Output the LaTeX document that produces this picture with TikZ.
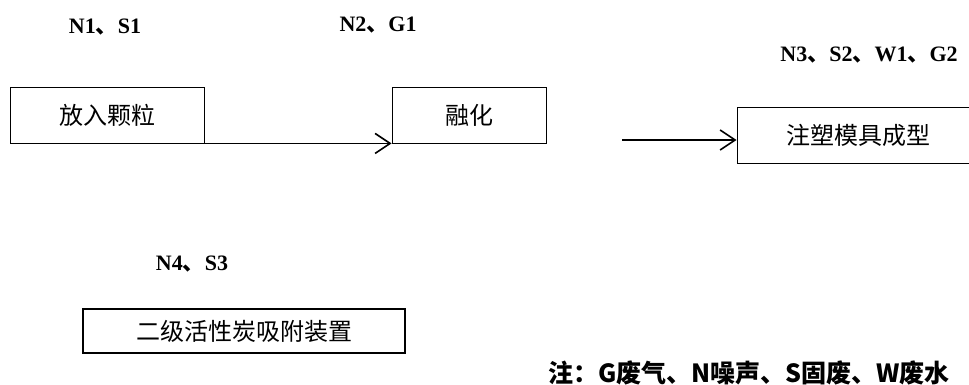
\documentclass[tikz,border=0pt]{standalone}
\usepackage{fontspec}
\setmainfont{Liberation Serif}
\newfontfamily\cjk{Noto Sans CJK SC}
\usetikzlibrary{arrows.meta}

\begin{document}
\begin{tikzpicture}[x=1pt,y=-1pt,>={Straight Barb[length=15pt,width=20pt,line width=1.6pt]},
  proc/.style={draw,line width=0.9pt,inner sep=0pt,minimum height=56pt,font=\cjk\fontsize{24}{24}\selectfont},
  waste/.style={inner sep=0pt,font=\bfseries\fontsize{22}{22}\selectfont},
  flow/.style={->,line width=1.5pt}]
\useasboundingbox (0,0) rectangle (969,385);
% process boxes
\node[proc,minimum width=194pt] (feed) at (107,115) {放入颗粒};
\node[proc,minimum width=154pt] (melt) at (469,115) {融化};
\node[proc,minimum width=242pt] (mold) at (858,135) {注塑模具成型};
\node[proc,minimum width=322pt,minimum height=44pt,line width=2pt] (carbon) at (244,331) {二级活性炭吸附装置};
% emission labels
\node[waste] (wfeed) at (105,27) {N1{\cjk 、}S1};
\node[waste] (wmelt) at (378,25) {N2{\cjk 、}G1};
\node[waste] (wmold) at (869,55) {N3{\cjk 、}S2{\cjk 、}W1{\cjk 、}G2};
\node[waste] (wcarbon) at (192,264) {N4{\cjk 、}S3};
\node[inner sep=0pt,font=\cjk\bfseries\fontsize{25}{25}\selectfont] (note) at (749,373) {注：G废气、N噪声、S固废、W废水};
% connectors
\coordinate (gap) at (622,140);
\draw[flow] (feed.south east) -- (melt.south west);
\draw[flow] (gap) -- (gap -| mold.west);
\end{tikzpicture}
\end{document}
